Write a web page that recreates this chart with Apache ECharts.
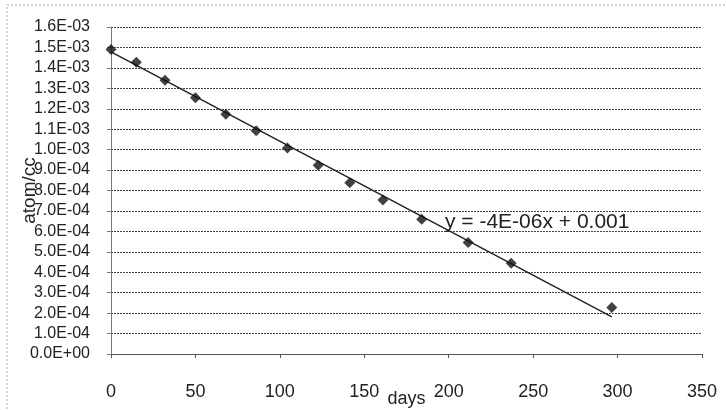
<!DOCTYPE html>
<html>
<head>
<meta charset="utf-8">
<script src="https://cdn.jsdelivr.net/npm/echarts@6/dist/echarts.min.js"></script>
<style>html,body{margin:0;padding:0;background:#fff}#c{width:726px;height:410px}</style>
</head>
<body>
<div id="c"></div>
<script>
// Data
const days = [0, 15, 32, 50, 68, 86, 104.5, 122.7, 141.4, 161, 184, 211.5, 237, 296.6];
const atomPerCc = [1.49e-3, 1.427e-3, 1.34e-3, 1.254e-3, 1.173e-3, 1.092e-3, 1.008e-3, 9.23e-4, 8.38e-4, 7.53e-4, 6.59e-4, 5.45e-4, 4.44e-4, 2.27e-4];
const trendX = [0, 296.6];
const trendY = [1.478e-3, 1.82e-4];
const xTicks = [0, 50, 100, 150, 200, 250, 300, 350];
const yTickMax = 1.6e-3, yTickStep = 1e-4;
const equationText = 'y = -4E-06x + 0.001';
const xTitle = 'days', yTitle = 'atom/cc';

function sci(v) {
  const s = Number(v).toExponential(1);
  const [m, e] = s.split('e');
  const sign = e[0] === '-' ? '-' : '+';
  const d = e.replace(/^[+-]/, '');
  return m + 'E' + sign + (d.length < 2 ? '0' + d : d);
}

const chart = echarts.init(document.getElementById('c'), null, {renderer: 'canvas'});
const font = 'Liberation Sans, Arial, sans-serif';
chart.setOption({
  backgroundColor: '#fff',
  animation: false,
  grid: {left: 111, right: 24, top: 27, bottom: 56, containLabel: false, outerBoundsMode: 'none'},
  xAxis: {
    type: 'value', min: xTicks[0], max: xTicks[xTicks.length - 1], interval: 50,
    name: xTitle, nameLocation: 'middle', nameGap: 36, nameMoveOverlap: false,
    nameTextStyle: {fontFamily: font, fontSize: 18, color: '#222'},
    axisLine: {show: true, lineStyle: {color: '#555', width: 1}},
    axisTick: {show: true, inside: false, length: 4, lineStyle: {color: '#555'}},
    axisLabel: {fontFamily: font, fontSize: 18, color: '#222', margin: 29},
    splitLine: {show: false}
  },
  yAxis: {
    type: 'value', min: 0, max: yTickMax, interval: yTickStep,
    name: yTitle, nameLocation: 'middle', nameGap: 72, nameRotate: 90, nameMoveOverlap: false,
    nameTextStyle: {fontFamily: font, fontSize: 19, color: '#222'},
    axisLine: {show: true, lineStyle: {color: '#777', width: 1}},
    axisTick: {show: true, inside: false, length: 4, lineStyle: {color: '#777'}},
    axisLabel: {fontFamily: font, fontSize: 16, color: '#222', margin: 21, formatter: sci},
    splitLine: {show: true, lineStyle: {color: '#444', width: 1, type: [2, 1]}}
  },
  series: [
    {
      type: 'line', data: trendX.map((x, i) => [x, trendY[i]]),
      symbol: 'none', lineStyle: {color: '#222', width: 1.5}, z: 2, silent: true
    },
    {
      type: 'scatter', data: days.map((x, i) => [x, atomPerCc[i]]),
      symbol: 'diamond', symbolSize: 11, itemStyle: {color: '#111'}, z: 3
    }
  ],
  graphic: [
    {type: 'rect', shape: {x: 7, y: 5, width: 740, height: 420},
     style: {fill: null, stroke: '#aaa', lineWidth: 1, lineDash: [2, 2]}, silent: true, z: -1},
    {type: 'text', left: 445, top: 212,
     style: {text: equationText, font: '21px ' + font, fill: '#222'}, z: 10}
  ]
});
</script>
</body>
</html>
